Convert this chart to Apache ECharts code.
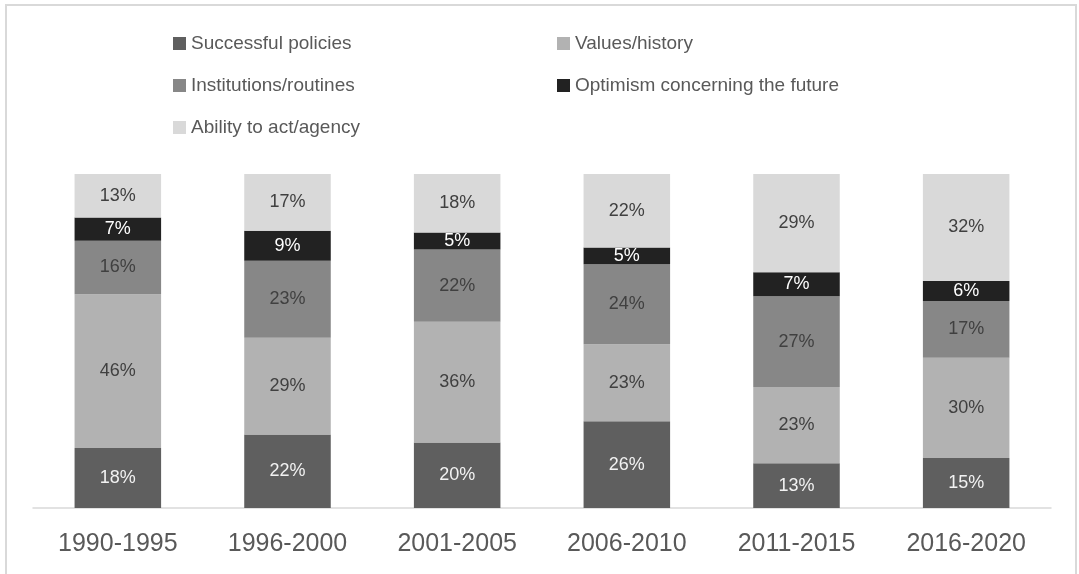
<!DOCTYPE html>
<html>
<head>
<meta charset="utf-8">
<script src="https://cdn.jsdelivr.net/npm/echarts@6/dist/echarts.min.js"></script>
<style>
  html, body { margin: 0; padding: 0; background: #fff; }
  #chart { width: 1079px; height: 574px; }
</style>
</head>
<body>
<div id="chart"></div>
<script>
const periods = ["1990-1995", "1996-2000", "2001-2005", "2006-2010", "2011-2015", "2016-2020"];

const successfulPolicies = [18, 22, 19.6, 26, 13.4, 15];
const valuesHistory = [46, 29, 36.2, 23, 22.8, 30];
const institutionsRoutines = [16, 23, 21.6, 24, 27.2, 17];
const optimismFuture = [7, 9, 5.1, 5, 7.2, 6];
const abilityAgency = [13, 17, 17.5, 22, 29.4, 32];

const seriesNames = [
  "Successful policies",
  "Values/history",
  "Institutions/routines",
  "Optimism concerning the future",
  "Ability to act/agency",
];
const seriesValues = [successfulPolicies, valuesHistory, institutionsRoutines, optimismFuture, abilityAgency];
const seriesColors = ["#5f5f5f", "#b2b2b2", "#878787", "#222222", "#d9d9d9"];
const labelColors = ["#f2f2f2", "#404040", "#404040", "#ffffff", "#404040"];

// legend placement, one legend per item to mimic the two-column layout
const legendPos = [
  { left: 168, top: 29 },
  { left: 552, top: 29 },
  { left: 168, top: 71 },
  { left: 552, top: 71 },
  { left: 168, top: 113 },
];

const font = "'Liberation Sans', Arial, sans-serif";

const chart = echarts.init(document.getElementById("chart"));

chart.setOption({
  backgroundColor: "#ffffff",
  animation: false,
  graphic: [
    {
      type: "rect",
      shape: { x: 6, y: 5, width: 1070, height: 620 },
      style: { fill: "none", stroke: "#d9d9d9", lineWidth: 2 },
      silent: true,
    },
  ],
  legend: seriesNames.map((name, i) => ({
    data: [name],
    left: legendPos[i].left,
    top: legendPos[i].top,
    icon: "rect",
    itemWidth: 13,
    itemHeight: 13,
    selectedMode: false,
    textStyle: { fontFamily: font, fontSize: 19, color: "#595959" },
  })),
  grid: { left: 33, right: 28, top: 174, bottom: 66 },
  xAxis: {
    type: "category",
    data: periods,
    axisLine: { lineStyle: { color: "#d9d9d9", width: 1.5 } },
    axisTick: { show: false },
    axisLabel: { fontFamily: font, fontSize: 25, color: "#595959", margin: 24 },
  },
  yAxis: {
    type: "value",
    min: 0,
    max: 100,
    show: false,
    splitLine: { show: false },
  },
  series: seriesNames.map((name, i) => ({
    name: name,
    type: "bar",
    stack: "total",
    barWidth: "51%",
    data: seriesValues[i],
    itemStyle: { color: seriesColors[i] },
    label: {
      show: true,
      position: "inside",
      fontFamily: font,
      fontSize: 18,
      color: labelColors[i],
      formatter: (p) => Math.round(p.value) + "%",
    },
  })),
});
</script>
</body>
</html>
